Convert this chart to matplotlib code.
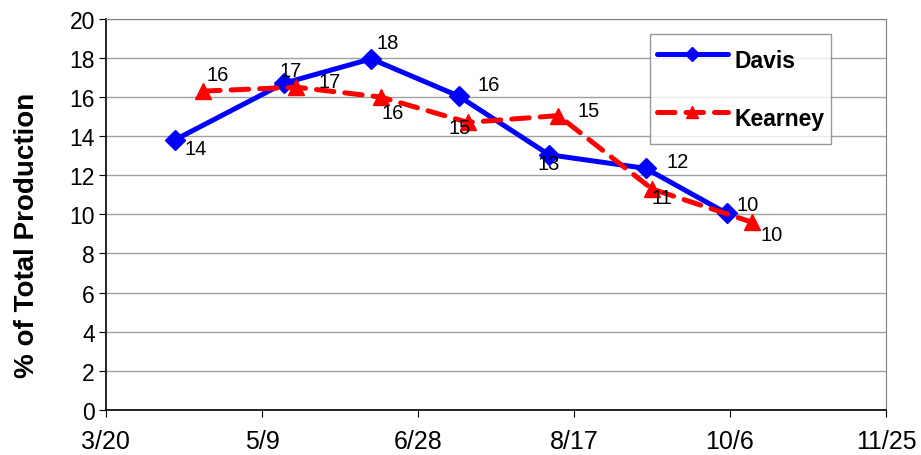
import matplotlib
matplotlib.use("Agg")
import matplotlib.pyplot as plt
import matplotlib.dates as mdates
import numpy as np
import datetime as dt

plt.rcParams['font.family'] = ['Liberation Sans', 'DejaVu Sans']

davis_dates = ["2008-04-11", "2008-05-16", "2008-06-13", "2008-07-11", "2008-08-09", "2008-09-09", "2008-10-05"]
davis_values = [13.8, 16.7, 17.95, 16.05, 13.05, 12.35, 10.05]
davis_labels = ["14", "17", "18", "16", "13", "12", "10"]

kearney_dates = ["2008-04-20", "2008-05-20", "2008-06-16", "2008-07-14", "2008-08-12", "2008-09-11", "2008-10-13"]
kearney_values = [16.3, 16.5, 16.0, 14.7, 15.05, 11.3, 9.6]
kearney_labels = ["16", "17", "16", "15", "15", "11", "10"]

xtick_labels = ["3/20", "5/9", "6/28", "8/17", "10/6", "11/25"]

def todate(s):
    return dt.datetime.strptime(s, "%Y-%m-%d")

dd = [todate(s) for s in davis_dates]
kd = [todate(s) for s in kearney_dates]
start = dt.datetime(2008, 3, 20)
xticks = [start + dt.timedelta(days=50 * i) for i in range(len(xtick_labels))]

fig = plt.figure(figsize=(9.21, 4.56), dpi=100)
ax = fig.add_axes([0.115, 0.0987, 0.847, 0.858])

ax.plot(dd, davis_values, color='#0000FF', lw=3.6, marker='D', ms=10, solid_capstyle='round',
        solid_joinstyle='round', label='Davis', zorder=3)
ax.plot(kd, kearney_values, color='#FF0000', lw=3.6, ls=(0, (3.5, 2.2)), marker='^', ms=11.5,
        dash_capstyle='round', label='Kearney', zorder=4)

d_off = [(7, -6, 'left'), (5, 9, 'center'), (4, 11.5, 'left'), (14, 8, 'left'),
         (0, -6, 'center'), (15, 5, 'left'), (7, 6.5, 'left')]
k_off = [(3, 12, 'left'), (16, 4, 'left'), (1, -11, 'left'), (-6, -3.6, 'center'),
         (14, 4, 'left'), (7, -6.5, 'center'), (6, -9, 'left')]
for x, y, t, o in zip(dd, davis_values, davis_labels, d_off):
    ax.annotate(t, (mdates.date2num(x), y), xytext=o[:2], textcoords='offset points',
                ha=o[2], va='center', fontsize=14.5, zorder=5)
for x, y, t, o in zip(kd, kearney_values, kearney_labels, k_off):
    ax.annotate(t, (mdates.date2num(x), y), xytext=o[:2], textcoords='offset points',
                ha=o[2], va='center', fontsize=14.5, zorder=5)

ax.set_xlim(xticks[0], xticks[-1])
ax.set_ylim(0, 20)
ax.set_xticks(xticks)
ax.set_xticklabels(xtick_labels, fontsize=18)
ax.set_yticks(np.arange(0, 21, 2))
ax.tick_params(axis='y', labelsize=16.5, length=5, direction='out', color='black', pad=3)
ax.tick_params(axis='x', length=5, direction='out', pad=9)
ax.yaxis.grid(True, color='#A0A0A0', lw=1)
ax.set_axisbelow(True)
for s in ['top', 'right']:
    ax.spines[s].set_color('#808080')
for s in ['left', 'bottom']:
    ax.spines[s].set_color('black')
    ax.spines[s].set_linewidth(1.2)

ax.set_ylabel('% of Total Production', fontsize=20, fontweight='bold')
ax.yaxis.set_label_coords(-0.085, 0.448)

leg = ax.legend(loc='upper left', bbox_to_anchor=(0.697, 0.962), prop={'weight': 'bold', 'size': 16.5},
                frameon=True, fancybox=False, edgecolor='#808080', handlelength=3.1,
                handleheight=2.2, labelspacing=0.85, borderpad=0.3, handletextpad=0.3,
                borderaxespad=0, markerscale=0.7)
leg.get_frame().set_linewidth(1)

fig.savefig('out.png', dpi=100)
